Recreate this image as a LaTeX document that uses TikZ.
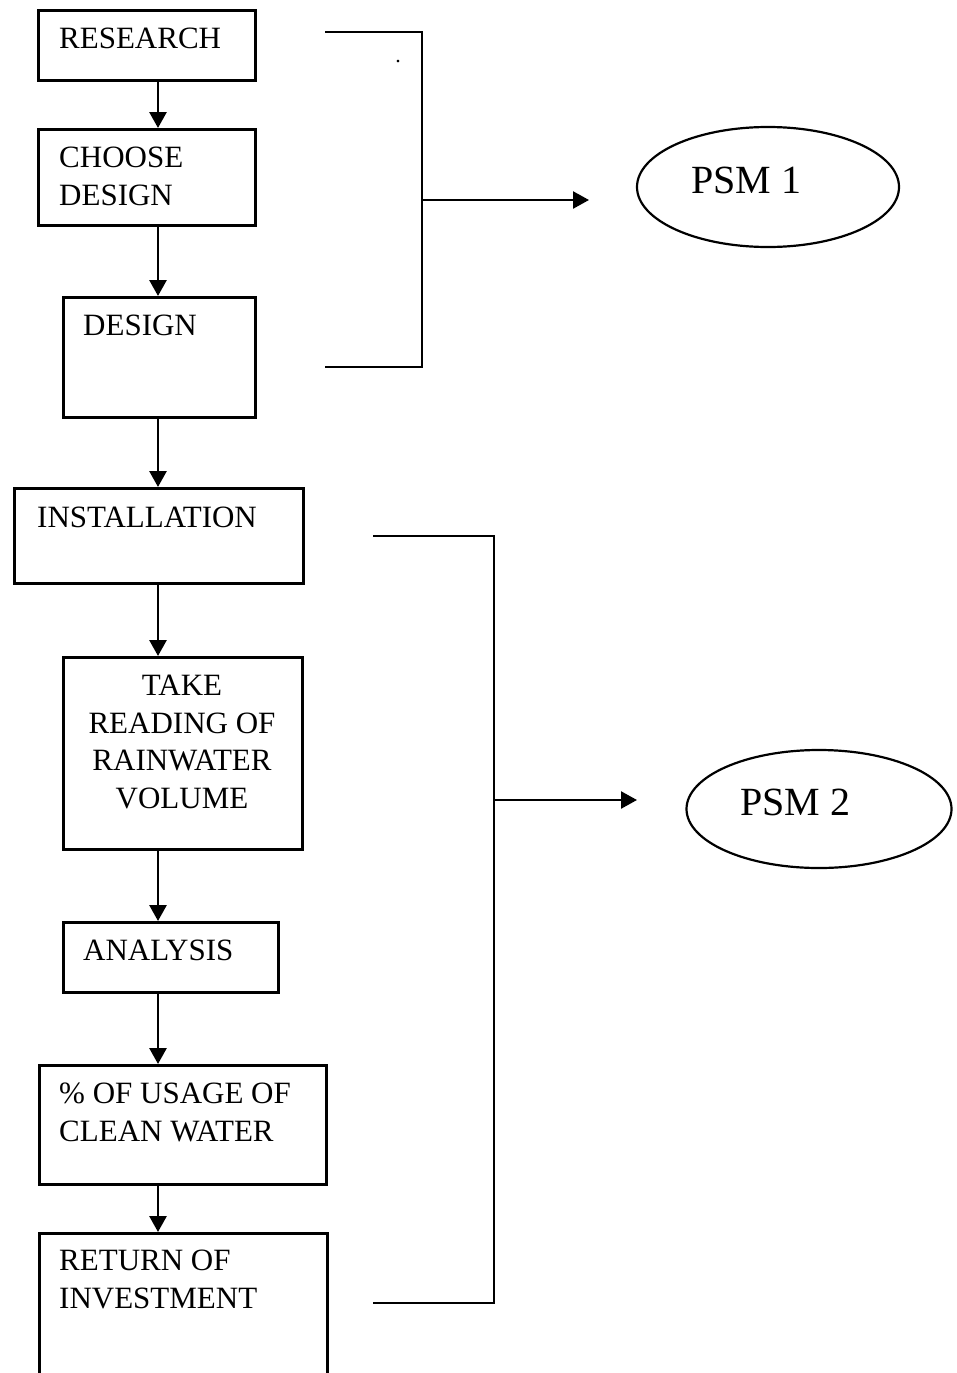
\documentclass[tikz,border=0pt]{standalone}
\usepackage{fontspec}
\setmainfont{Liberation Serif}
\usetikzlibrary{arrows.meta}
\usetikzlibrary{shapes.geometric}

\begin{document}
\begin{tikzpicture}[x=1pt, y=-1pt,
    box/.style={draw, line width=3.3pt, inner sep=0pt, anchor=north west},
    word/.style={inner sep=0pt, anchor=north west, align=left, font=\fontsize{31}{37.5}\selectfont},
    flow/.style={line width=2.8pt, -{Triangle[length=16pt, width=17pt]}},
    brace/.style={line width=2.5pt},
    phase/.style={draw, ellipse, line width=2.2pt, inner sep=0pt}]
      \useasboundingbox (0,0) rectangle (956,1373);
      \clip (0,0) rectangle (956,1373);

      % stages
      \node[box, minimum width=217pt, minimum height=70pt]  (research) at (37,9) {};
      \node[box, minimum width=217pt, minimum height=96pt]  (choose)   at (37,128) {};
      \node[box, minimum width=192pt, minimum height=120pt] (design)   at (62,296) {};
      \node[box, minimum width=289pt, minimum height=95pt]  (install)  at (13,487) {};
      \node[box, minimum width=239pt, minimum height=192pt] (reading)  at (62,656) {};
      \node[box, minimum width=215pt, minimum height=70pt]  (analysis) at (62,921) {};
      \node[box, minimum width=287pt, minimum height=119pt] (usage)    at (38,1064) {};
      \node[box, minimum width=288pt, minimum height=200pt] (return)   at (38,1232) {};

      \node[word] (researchtxt) at (59,28)   {RESEARCH};
      \node[word] (choosetxt)   at (59,147)  {CHOOSE\\DESIGN};
      \node[word] (designtxt)   at (83,315)  {DESIGN};
      \node[word] (installtxt)  at (37,507)  {INSTALLATION};
      \node[word, anchor=north, align=center] (readingtxt) at (182,675)
            {TAKE\\READING OF\\RAINWATER\\VOLUME};
      \node[word] (analysistxt) at (83,940)  {ANALYSIS};
      \node[word] (usagetxt)    at (59,1083) {\% OF USAGE OF\\CLEAN WATER};
      \node[word] (returntxt)   at (59,1250) {RETURN OF\\INVESTMENT};

      % arrows down the chain
      \coordinate (spine) at (158,0);
      \draw[flow] (research.south -| spine) -- (choose.north -| spine);
      \draw[flow] (choose.south -| spine)   -- (design.north -| spine);
      \draw[flow] (design.south -| spine)   -- (install.north -| spine);
      \draw[flow] (install.south -| spine)  -- (reading.north -| spine);
      \draw[flow] (reading.south -| spine)  -- (analysis.north -| spine);
      \draw[flow] (analysis.south -| spine) -- (usage.north -| spine);
      \draw[flow] (usage.south -| spine)    -- (return.north -| spine);

      % PSM 1 bracket
      \coordinate (ptop) at (325,32);
      \coordinate (pbot) at (325,367);
      \coordinate (pmid) at (422,200);
      \coordinate (pend) at (589,200);
      \draw[brace] (ptop) -| (pmid |- pbot) -- (pbot);
      \draw[flow, line width=2.4pt] (pmid) -- (pend);
      \node[inner sep=0pt, font=\fontsize{22}{22}\selectfont] (dot) at (398,62) {.};

      \node[phase, minimum width=262pt, minimum height=120pt] (psma) at (768,187) {};
      \node[inner sep=0pt, anchor=north west, font=\fontsize{40}{46}\selectfont] (psmatxt) at (691,167) {PSM 1};

      % PSM 2 bracket
      \coordinate (qtop) at (373,536);
      \coordinate (qbot) at (373,1303);
      \coordinate (qmid) at (494,800);
      \coordinate (qend) at (637,800);
      \draw[brace] (qtop) -| (qmid |- qbot) -- (qbot);
      \draw[flow, line width=2.4pt] (qmid) -- (qend);

      \node[phase, minimum width=265pt, minimum height=118pt] (psmb) at (819,809) {};
      \node[inner sep=0pt, anchor=north west, font=\fontsize{40}{46}\selectfont] (psmbtxt) at (740,789) {PSM 2};
\end{tikzpicture}
\end{document}
